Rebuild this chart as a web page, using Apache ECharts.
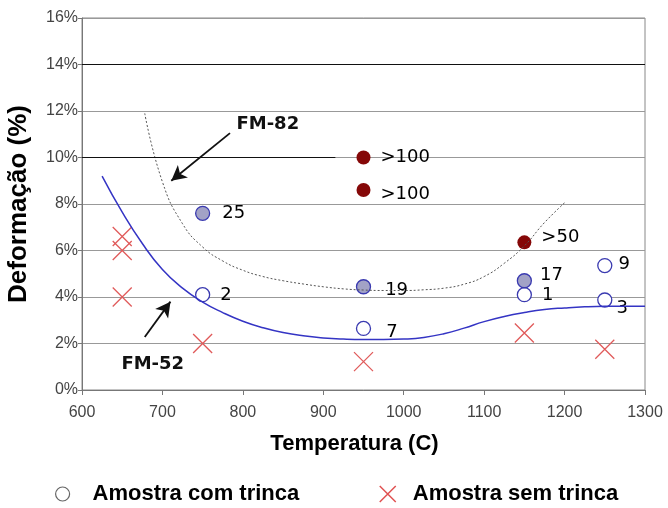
<!DOCTYPE html>
<html>
<head>
<meta charset="utf-8">
<script src="https://cdn.jsdelivr.net/npm/echarts@6/dist/echarts.min.js"></script>
<style>
  html, body { margin: 0; padding: 0; background: #fff; }
  #chart { width: 668px; height: 508px; }
</style>
</head>
<body>
<div id="chart"></div>
<script>
// Deformation vs. temperature, with fitted limit curves for FM-52 and FM-82
const xTicks = [600, 700, 800, 900, 1000, 1100, 1200, 1300];
const yTicks = [0, 2, 4, 6, 8, 10, 12, 14, 16];

// Cracked samples, open markers: [temperature, deformation %]
const openPts = [[750, 4.1], [950, 2.65], [1150, 4.1], [1250, 5.35], [1250, 3.87]];
const openLabels = ['2', '7', '1', '9', '3'];

// Cracked samples, grey markers
const greyPts = [[750, 7.6], [950, 4.44], [1150, 4.7]];
const greyLabels = ['25', '19', '17'];

// Cracked samples, dark red markers
const redPts = [[950, 10.0], [950, 8.6], [1150, 6.35]];
const redLabels = ['>100', '>100', '>50'];

// Samples without cracks
const crossPts = [[650, 6.6], [650, 6.0], [650, 4.0], [750, 2.0], [950, 1.22], [1150, 2.45], [1250, 1.75]];

// Limit curves, sampled every 25 degrees
const fm52Curve = [[625, 9.2], [650, 7.65], [675, 6.3], [700, 5.18], [725, 4.38], [750, 3.78], [775, 3.33],
  [800, 2.96], [825, 2.68], [850, 2.47], [875, 2.33], [900, 2.24], [925, 2.19], [950, 2.17], [975, 2.17],
  [1000, 2.19], [1025, 2.26], [1050, 2.42], [1075, 2.66], [1100, 2.94], [1125, 3.16], [1150, 3.33],
  [1175, 3.46], [1200, 3.53], [1225, 3.58], [1250, 3.6], [1275, 3.6], [1300, 3.6]];
const fm82Curve = [[678, 11.9], [700, 8.95], [725, 7.15], [750, 6.15], [775, 5.55], [800, 5.15], [825, 4.88],
  [850, 4.7], [875, 4.56], [900, 4.44], [925, 4.35], [950, 4.3], [975, 4.28], [1000, 4.28], [1025, 4.31],
  [1050, 4.38], [1075, 4.55], [1100, 4.88], [1125, 5.45], [1150, 6.2], [1175, 7.2], [1200, 8.05]];

const labelFont = { fontFamily: 'DejaVu Sans', fontSize: 18, color: '#000' };

// per-point label placement (right side, with small shifts)
const openOffsets = [[0, 1], [5, 4], [0, 1], [-4, -1], [-6, 8]];
const greyOffsets = [[2, 0], [4, 4], [-2, -5]];
const redOffsets = [[0, 0], [0, 4], [0, -5]];

function withLabels(pts, labels, offsets) {
  return pts.map((p, i) => ({
    value: p,
    label: {
      show: true, position: 'right', distance: 10,
      offset: offsets[i], formatter: labels[i], ...labelFont
    }
  }));
}

const crossPath = 'path://M0,0L10,10M10,0L0,10';
const legendText = { fontFamily: 'Liberation Sans', fontWeight: 'bold', fontSize: 22, color: '#000' };

const chart = echarts.init(document.getElementById('chart'), null, { renderer: 'canvas' });
chart.setOption({
  animation: false,
  grid: { left: 82, right: 23, top: 18, bottom: 118, show: true, borderColor: '#888', borderWidth: 1,
    outerBoundsMode: 'none' },
  xAxis: {
    type: 'value', min: xTicks[0], max: xTicks[xTicks.length - 1], interval: 100,
    name: 'Temperatura (C)', nameLocation: 'middle', nameGap: 43,
    nameTextStyle: { fontFamily: 'Liberation Sans', fontWeight: 'bold', fontSize: 22, color: '#000',
      padding: [0, 18, 0, 0] },
    axisLine: { show: true, lineStyle: { color: '#777' } },
    axisTick: { show: true, length: 5, lineStyle: { color: '#777' } },
    axisLabel: { margin: 15, fontFamily: 'Liberation Sans', fontSize: 16, color: '#444',
      formatter: v => String(v) },
    splitLine: { show: false }
  },
  yAxis: {
    type: 'value', min: yTicks[0], max: yTicks[yTicks.length - 1], interval: 2,
    name: 'Deformação (%)', nameLocation: 'middle', nameGap: 50,
    nameTextStyle: { fontFamily: 'Liberation Sans', fontWeight: 'bold', fontSize: 26, color: '#000' },
    axisLine: { show: true, lineStyle: { color: '#777' } },
    axisTick: { show: true, length: 4, lineStyle: { color: '#777' } },
    axisLabel: { margin: 4, fontFamily: 'Liberation Sans', fontSize: 16, color: '#444', formatter: '{value}%' },
    splitLine: { show: true, lineStyle: { color: '#999', width: 1.2 } }
  },
  legend: [
    {
      left: 55, top: 483, padding: 0, itemWidth: 14, itemHeight: 14, selectedMode: false,
      textStyle: { ...legendText, padding: [0, 0, 0, 18] },
      data: [{ name: 'Amostra com trinca', icon: 'circle',
        itemStyle: { color: '#fff', borderColor: '#666', borderWidth: 1.2, opacity: 1 } }]
    },
    {
      left: 379, top: 483, padding: 0, itemWidth: 16, itemHeight: 16, selectedMode: false,
      textStyle: { ...legendText, padding: [0, 0, 0, 12] },
      data: [{ name: 'Amostra sem trinca', icon: crossPath,
        itemStyle: { color: 'transparent', borderColor: '#e05050', borderWidth: 1.5, opacity: 1 } }]
    }
  ],
  series: [
    {
      name: 'FM-52', type: 'line', data: fm52Curve, smooth: 0.5,
      showSymbol: false, silent: true,
      lineStyle: { color: '#3434c4', width: 1.5 },
      markLine: {
        silent: true, symbol: ['none', 'arrow'], symbolSize: [12, 15],
        lineStyle: { color: '#111', width: 1.8, type: 'solid' }, label: { show: false },
        data: [[{ coord: [678, 2.28] }, { coord: [710, 3.8] }]]
      },
      markPoint: {
        silent: true, symbol: 'circle', symbolSize: 0,
        label: { show: true, position: 'inside', formatter: '{b}', fontFamily: 'DejaVu Sans',
          fontWeight: 'bold', fontSize: 18, color: '#111' },
        data: [{ name: 'FM-52', coord: [688, 1.1] }]
      }
    },
    {
      name: 'FM-82', type: 'line', data: fm82Curve, smooth: 0.5,
      showSymbol: false, silent: true,
      lineStyle: { color: '#555', width: 1, type: [2, 2] },
      markLine: {
        silent: true, symbol: ['none', 'arrow'], symbolSize: [12, 15],
        lineStyle: { color: '#111', width: 1.8, type: 'solid' }, label: { show: false },
        data: [[{ coord: [784, 11.05] }, { coord: [711, 9.0] }]]
      },
      markPoint: {
        silent: true, symbol: 'circle', symbolSize: 0,
        label: { show: true, position: 'inside', formatter: '{b}', fontFamily: 'DejaVu Sans',
          fontWeight: 'bold', fontSize: 18, color: '#111' },
        data: [{ name: 'FM-82', coord: [831, 11.44] }]
      }
    },
    {
      // black segments on the 14% and 10% gridlines
      name: 'guides', type: 'line', data: [], silent: true,
      markLine: {
        silent: true, symbol: 'none', label: { show: false },
        lineStyle: { color: '#111', width: 1.2, type: 'solid' },
        data: [
          [{ coord: [600, 14] }, { coord: [1300, 14] }],
          [{ coord: [600, 10] }, { coord: [915, 10] }]
        ]
      }
    },
    {
      name: 'Amostra com trinca', type: 'scatter', symbol: 'circle', symbolSize: 14,
      itemStyle: { color: '#fff', borderColor: '#3a3ab0', borderWidth: 1.3, opacity: 1 },
      data: withLabels(openPts, openLabels, openOffsets)
    },
    {
      name: 'grey', type: 'scatter', symbol: 'circle', symbolSize: 14,
      itemStyle: { color: '#a2a2c6', borderColor: '#3a3ab0', borderWidth: 1.3, opacity: 1 },
      data: withLabels(greyPts, greyLabels, greyOffsets)
    },
    {
      name: 'dark', type: 'scatter', symbol: 'circle', symbolSize: 14,
      itemStyle: { color: '#850808', opacity: 1 },
      data: withLabels(redPts, redLabels, redOffsets)
    },
    {
      name: 'Amostra sem trinca', type: 'scatter', symbol: crossPath, symbolSize: 19,
      itemStyle: { color: 'transparent', borderColor: '#e05a5a', borderWidth: 1.3, opacity: 1 },
      data: crossPts
    }
  ]
});
</script>
</body>
</html>
